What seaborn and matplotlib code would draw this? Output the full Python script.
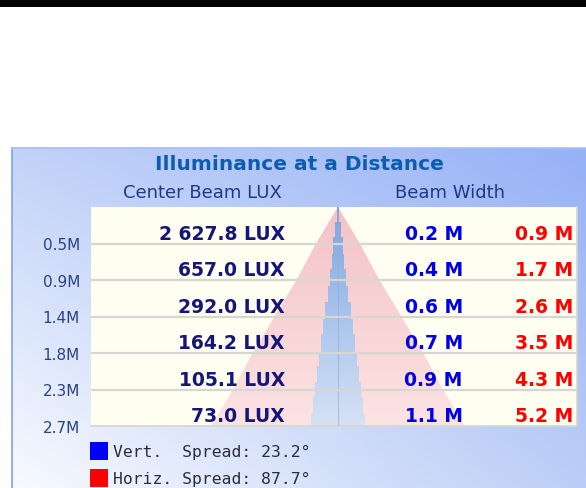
import numpy as np
import matplotlib.pyplot as plt
import seaborn as sns
from matplotlib.colors import LinearSegmentedColormap, to_rgb
from matplotlib.patches import Rectangle, Polygon

sns.set_theme(style="white")
plt.rcParams['font.family'] = ['DejaVu Sans']

# distances (m) at the end of each row and their axis labels
distances = [0.45, 0.9, 1.35, 1.8, 2.25, 2.7]
distance_labels = ["0.5M", "0.9M", "1.4M", "1.8M", "2.3M", "2.7M"]
center_lux = ["2 627.8 LUX", "657.0 LUX", "292.0 LUX", "164.2 LUX", "105.1 LUX", "73.0 LUX"]
vert_width = [0.2, 0.4, 0.6, 0.7, 0.9, 1.1]
horiz_width = [0.9, 1.7, 2.6, 3.5, 4.3, 5.2]
vert_spread = 23.2
horiz_spread = 87.7
# stepped outline of the vertical beam as drawn: step edges (m) and half widths (m)
vert_step_edges = [0, 0.185, 0.37, 0.58, 0.76, 0.97, 1.17, 1.38, 1.57, 1.79, 1.96, 2.16, 2.34, 2.55, 2.7]
vert_step_half = [0.02, 0.06, 0.10, 0.12, 0.16, 0.20, 0.26, 0.31, 0.35, 0.39, 0.43, 0.47, 0.51, 0.55]

W, H = 586, 489
fig = plt.figure(figsize=(W / 100, H / 100), dpi=100)
fig.patch.set_facecolor('white')
fig.patches.append(Rectangle((0, 1 - 8 / H), 1, 8 / H, transform=fig.transFigure,
                             facecolor='black', edgecolor='none'))

# ---- panel background (pixel coordinates) ----
bg = fig.add_axes([12 / W, 0, 1 - 12 / W, (H - 149) / H])
tl, tr = np.array(to_rgb("#c2d2f8")), np.array(to_rgb("#96b1f6"))
bl, br = np.array(to_rgb("#f8faff")), np.array(to_rgb("#bccef6"))
u = np.linspace(0, 1, 200)[None, :, None]
v = np.linspace(0, 1, 200)[:, None, None]
grad = (1 - v) * ((1 - u) * tl + u * tr) + v * ((1 - u) * bl + u * br)
bg.imshow(grad, extent=(12, W, H, 149), aspect='auto', interpolation='bilinear')
bg.set_xlim(12, W)
bg.set_ylim(H, 149)
bg.set_xticks([])
bg.set_yticks([])
for s in ['right', 'bottom']:
    bg.spines[s].set_visible(False)
bg.spines['left'].set_color('#86a4e6')
bg.spines['top'].set_color('#a8bff2')

bg.text(299, 165, "Illuminance at a Distance", ha='center', va='center',
        fontsize=14.5, fontweight='bold', color='#0e5cb0')
bg.text(202, 193, "Center Beam LUX", ha='center', va='center', fontsize=13, color='#1e3a86')
bg.text(450, 193, "Beam Width", ha='center', va='center', fontsize=13, color='#1e3a86')

bg.add_patch(Rectangle((90, 443), 18, 18, facecolor='#0000ff', edgecolor='none'))
bg.add_patch(Rectangle((90, 470), 18, 18, facecolor='#ff0000', edgecolor='none'))
bg.text(113, 452, f"Vert.  Spread: {vert_spread}°", ha='left', va='center',
        fontsize=11.8, family='DejaVu Sans Mono', color='#2c2c3c')
bg.text(113, 479, f"Horiz. Spread: {horiz_spread}°", ha='left', va='center',
        fontsize=11.8, family='DejaVu Sans Mono', color='#2c2c3c')

# ---- table with beam drawing (metres) ----
ax = fig.add_axes([91 / W, (H - 427) / H, 486 / W, 219 / H])
ax.set_facecolor('#fefef1')
xmin, xmax = -5.06, 4.90
dmax = distances[-1]

# horizontal beam (red cone)
right = [(h / 2, d) for d, h in zip(distances, horiz_width)]
left = [(-h / 2, d) for d, h in zip(distances, horiz_width)][::-1]
red_poly = Polygon([(0, 0)] + right + left, closed=True, facecolor='none', edgecolor='none')
ax.add_patch(red_poly)
red_cmap = LinearSegmentedColormap.from_list('red', ['#f4c3c7', '#fce3e3'])
im = ax.imshow(np.linspace(0, 1, 256)[:, None], cmap=red_cmap, extent=(xmin, xmax, dmax, 0),
               aspect='auto', origin='upper', zorder=1)
im.set_clip_path(red_poly)

# vertical beam (blue stepped cone)
rs, ls = [], []
for i, hw in enumerate(vert_step_half):
    rs += [(hw, vert_step_edges[i]), (hw, vert_step_edges[i + 1])]
    ls += [(-hw, vert_step_edges[i]), (-hw, vert_step_edges[i + 1])]
blue_poly = Polygon(rs + ls[::-1], closed=True, facecolor='none', edgecolor='none')
ax.add_patch(blue_poly)
blue_cmap = LinearSegmentedColormap.from_list('blue', ['#7ca4e0', '#a8c4ec', '#d6e2f4'])
im2 = ax.imshow(np.linspace(0, 1, 256)[:, None], cmap=blue_cmap, extent=(xmin, xmax, dmax, 0),
                aspect='auto', origin='upper', zorder=2)
im2.set_clip_path(blue_poly)

sns.lineplot(x=[0, 0], y=[0, dmax], orient='y', estimator=None, ax=ax,
             color='#9aaac4', linewidth=0.8, alpha=0.6, zorder=3)

for d in distances[:-1]:
    ax.axhline(d, color='#d6d6d2', linewidth=1.6, zorder=4)

ax.set_xlim(xmin, xmax)
ax.set_ylim(dmax, 0)
ax.set_xticks([])
ax.set_yticks(distances, distance_labels)
ax.tick_params(axis='y', length=0, pad=8, labelsize=11, labelcolor='#2a4282')
ax.set_xlabel('')
ax.set_ylabel('')
for s in ['top', 'left']:
    ax.spines[s].set_visible(False)
ax.spines['bottom'].set_color('#d6d6d2')
ax.spines['right'].set_color('#d6d6d2')

tr_y = ax.get_yaxis_transform()
row_h = distances[0]
for d, lux, vw, hw in zip(distances, center_lux, vert_width, horiz_width):
    y = d - 0.06
    ax.text(0.399, y, lux, transform=tr_y, ha='right', va='baseline',
            fontsize=13.5, fontweight='bold', color='#15157a', zorder=5)
    ax.text(0.765, y, f"{vw} M", transform=tr_y, ha='right', va='baseline',
            fontsize=13.5, fontweight='bold', color='#0000e6', zorder=5)
    ax.text(0.992, y, f"{hw} M", transform=tr_y, ha='right', va='baseline',
            fontsize=13.5, fontweight='bold', color='#ff0000', zorder=5)

fig.savefig('out.png', dpi=100)
